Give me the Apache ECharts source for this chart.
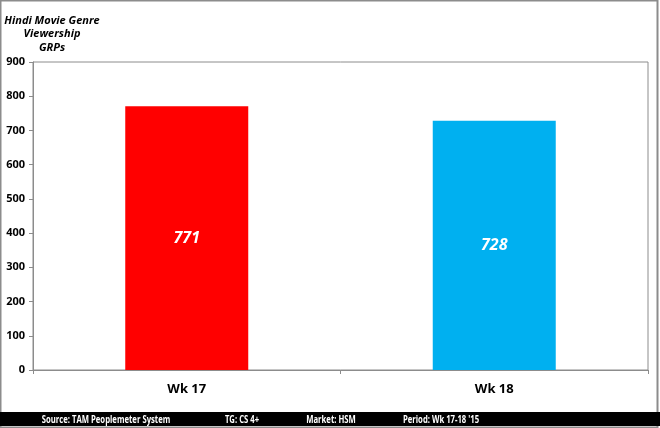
<!DOCTYPE html>
<html>
<head>
<meta charset="utf-8">
<script src="https://cdn.jsdelivr.net/npm/echarts@6/dist/echarts.min.js"></script>
<style>
html,body{margin:0;padding:0;background:#fff;}
#wrap{position:absolute;left:0;top:0;width:660px;height:428px;}
#chart{width:660px;height:428px;}
</style>
</head>
<body>
<div id="wrap"><div id="chart"></div></div>
<script>
var categories = ['Wk 17', 'Wk 18'];
var grpValues = [771, 728];
var barColors = ['#ff0000', '#00b0f0'];
var yTicks = [0, 100, 200, 300, 400, 500, 600, 700, 800, 900];
var titleLines = ['Hindi Movie Genre', 'Viewership', 'GRPs'];
var footerTexts = ['Source: TAM Peoplemeter System', 'TG: CS 4+', 'Market: HSM', "Period: Wk 17-18 '15"];
var footerX = [106, 242, 331, 441];

var FONT = 'Open Sans';
var chart = echarts.init(document.getElementById('chart'), null, {renderer: 'canvas'});

var graphics = [
  {type: 'rect', shape: {x: 0.5, y: 0.5, width: 657, height: 427}, style: {fill: 'none', stroke: '#8c8c8c', lineWidth: 2}, z: 0},
  {type: 'rect', shape: {x: 0, y: 412, width: 660, height: 14}, style: {fill: '#000'}, z: 10},
  {type: 'text', x: 52, y: 14, style: {text: titleLines.join('\n'), font: 'italic bold 11px "' + FONT + '"', fill: '#000', align: 'center', verticalAlign: 'top', lineHeight: 13.5}, z: 10}
];
footerTexts.forEach(function (t, i) {
  graphics.push({type: 'text', x: footerX[i], y: 419.5, scaleX: 0.7, style: {text: t, font: 'bold 11px "' + FONT + '"', fill: '#fff', align: 'center', verticalAlign: 'middle'}, z: 11});
});

chart.setOption({
  animation: false,
  backgroundColor: '#fff',
  grid: {left: 33, right: 12, top: 62, bottom: 58, show: true, borderColor: '#8c8c8c', borderWidth: 1, backgroundColor: 'transparent'},
  xAxis: {
    type: 'category',
    data: categories,
    axisLine: {lineStyle: {color: '#8c8c8c'}},
    axisTick: {show: true, alignWithLabel: false, length: 4, lineStyle: {color: '#8c8c8c'}},
    axisLabel: {color: '#000', fontFamily: FONT, fontWeight: 'bold', fontSize: 13, margin: 13}
  },
  yAxis: {
    type: 'value',
    min: yTicks[0],
    max: yTicks[yTicks.length - 1],
    interval: 100,
    splitLine: {show: false},
    axisLine: {show: true, lineStyle: {color: '#8c8c8c'}},
    axisTick: {show: true, length: 4, lineStyle: {color: '#8c8c8c'}},
    axisLabel: {color: '#000', fontFamily: FONT, fontWeight: 'bold', fontSize: 11, margin: 8}
  },
  series: [{
    type: 'bar',
    data: grpValues.map(function (v, i) { return {value: v, itemStyle: {color: barColors[i]}}; }),
    barWidth: '40%',
    label: {show: true, position: 'inside', color: '#fff', fontFamily: FONT, fontWeight: 'bold', fontStyle: 'italic', fontSize: 16}
  }],
  graphic: graphics
});
</script>
</body>
</html>
